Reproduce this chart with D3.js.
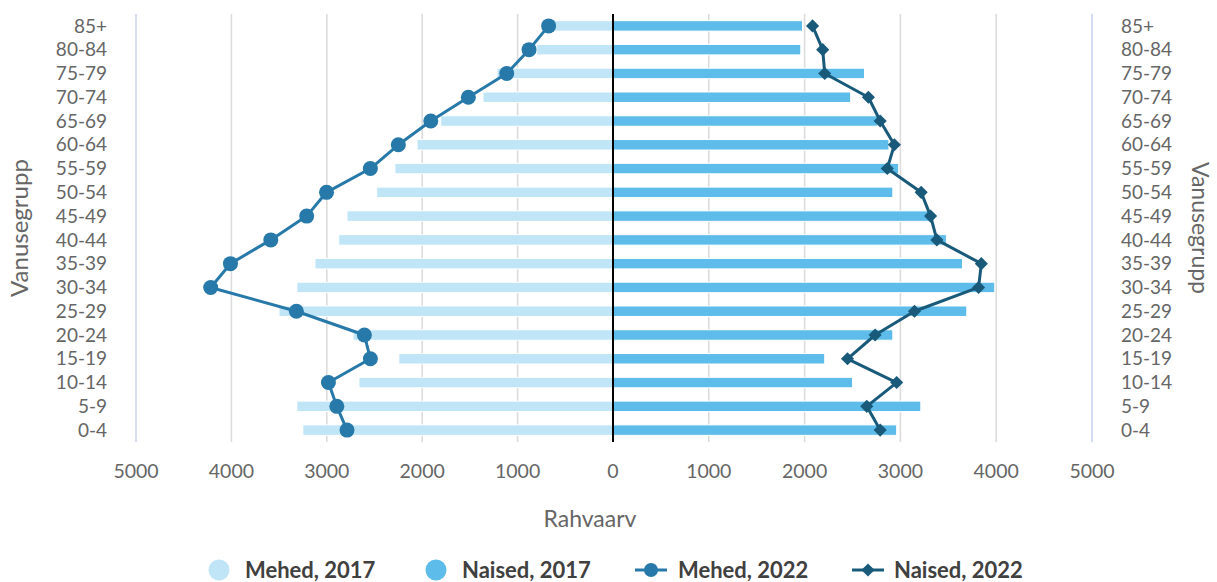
<!DOCTYPE html>
<html><head><meta charset="utf-8">
<script src="https://cdn.jsdelivr.net/npm/d3@7"></script>
<style>body{margin:0;background:#fff}svg{display:block;font-family:Lato,"Open Sans",sans-serif}</style>
</head><body><svg id="c" width="1217" height="582"></svg>
<script>
const categories = ["85+","80-84","75-79","70-74","65-69","60-64","55-59","50-54","45-49","40-44","35-39","30-34","25-29","20-24","15-19","10-14","5-9","0-4"];
const men2017   = [650, 800, 1216, 1363, 1806, 2054, 2286, 2477, 2788, 2875, 3124, 3314, 3501, 2725, 2245, 2663, 3314, 3251];
const women2017 = [1978, 1960, 2625, 2481, 2760, 2880, 2982, 2921, 3310, 3480, 3648, 3985, 3693, 2921, 2210, 2501, 3213, 2961];
const men2022   = [675, 880, 1114, 1516, 1910, 2250, 2543, 3003, 3211, 3587, 4010, 4217, 3319, 2606, 2543, 2983, 2895, 2788];
const women2022 = [2083, 2189, 2210, 2666, 2789, 2937, 2863, 3217, 3315, 3381, 3845, 3816, 3147, 2736, 2448, 2961, 2649, 2789];
const xTicks = [0, 1000, 2000, 3000, 4000, 5000];
const seriesNames = ["Mehed, 2017", "Naised, 2017", "Mehed, 2022", "Naised, 2022"];
const xTitle = "Rahvaarv";
const yTitle = "Vanusegrupp";

const C = {m17:"#bfe5f6", w17:"#5dbce9", m22:"#2779a9", w22:"#195a7a", grid:"#dcdcdc", edge:"#c9d5ea", text:"#666666", legend:"#404040"};
const svg = d3.select("#c");
const yTop = 14, yBot = 442;
const xL = d3.scaleLinear().domain([0, 5000]).range([613, 136]);
const xR = d3.scaleLinear().domain([0, 5000]).range([613, 1092]);
const y = d3.scaleBand().domain(categories).range([yTop, yBot]).paddingInner(0.56).paddingOuter(0.28);
const yc = c => y(c) + y.bandwidth() / 2;

// gridlines
const g = svg.append("g");
xTicks.filter(t => t > 0).forEach(t => {
  [xL, xR].forEach(sc => {
    g.append("line").attr("x1", sc(t)).attr("x2", sc(t)).attr("y1", yTop).attr("y2", yBot)
      .attr("stroke", t === 5000 ? C.edge : C.grid).attr("stroke-width", 1.6);
  });
});

// bars
svg.append("g").selectAll("rect").data(categories).join("rect")
  .attr("x", (d, i) => xL(men2017[i])).attr("y", d => y(d))
  .attr("width", (d, i) => xL(0) - xL(men2017[i])).attr("height", y.bandwidth())
  .attr("fill", C.m17).attr("stroke", "#fff").attr("stroke-width", 1);
svg.append("g").selectAll("rect").data(categories).join("rect")
  .attr("x", xR(0)).attr("y", d => y(d))
  .attr("width", (d, i) => xR(women2017[i]) - xR(0)).attr("height", y.bandwidth())
  .attr("fill", C.w17).attr("stroke", "#fff").attr("stroke-width", 1);

// center axis
svg.append("line").attr("x1", xL(0)).attr("x2", xL(0)).attr("y1", yTop).attr("y2", yBot)
  .attr("stroke", "#000").attr("stroke-width", 2);

// lines
const lineM = d3.line().x((d, i) => xL(d)).y((d, i) => yc(categories[i]));
const lineW = d3.line().x((d, i) => xR(d)).y((d, i) => yc(categories[i]));
svg.append("path").datum(men2022).attr("d", lineM).attr("fill", "none").attr("stroke", C.m22).attr("stroke-width", 3).attr("stroke-linejoin", "round");
svg.append("g").selectAll("circle").data(men2022).join("circle")
  .attr("cx", d => xL(d)).attr("cy", (d, i) => yc(categories[i])).attr("r", 7.5).attr("fill", C.m22);
svg.append("path").datum(women2022).attr("d", lineW).attr("fill", "none").attr("stroke", C.w22).attr("stroke-width", 3).attr("stroke-linejoin", "round");
const diamond = d3.symbol().type(d3.symbolDiamond2).size(110);
svg.append("g").selectAll("path").data(women2022).join("path")
  .attr("d", diamond).attr("transform", (d, i) => `translate(${xR(d)},${yc(categories[i])})`).attr("fill", C.w22);

// category labels
const fs = "19px";
svg.append("g").selectAll("text").data(categories).join("text")
  .attr("x", 107).attr("y", d => yc(d)).attr("dy", "0.35em").attr("text-anchor", "end")
  .attr("font-size", fs).attr("fill", C.text).text(d => d);
svg.append("g").selectAll("text").data(categories).join("text")
  .attr("x", 1121).attr("y", d => yc(d)).attr("dy", "0.35em").attr("text-anchor", "start")
  .attr("font-size", fs).attr("fill", C.text).text(d => d);

// x tick labels
const tickData = xTicks.map(t => ({t, x: xL(t)})).concat(xTicks.filter(t => t > 0).map(t => ({t, x: xR(t)})));
svg.append("g").selectAll("text").data(tickData).join("text")
  .attr("x", d => d.x).attr("y", 478).attr("text-anchor", "middle")
  .attr("font-size", "19.5px").attr("fill", C.text).text(d => d.t);

// titles
svg.append("text").attr("x", 590).attr("y", 527).attr("text-anchor", "middle")
  .attr("font-size", "23px").attr("fill", C.text).text(xTitle);
svg.append("text").attr("transform", `translate(28,${(yTop + yBot) / 2}) rotate(-90)`).attr("text-anchor", "middle")
  .attr("font-size", "24px").attr("fill", C.text).text(yTitle);
svg.append("text").attr("transform", `translate(1192,${(yTop + yBot) / 2}) rotate(90)`).attr("text-anchor", "middle")
  .attr("font-size", "23px").attr("fill", C.text).text(yTitle);

// legend
const ly = 570;
const leg = svg.append("g");
const legItems = [
  {name: seriesNames[0], x: 219, type: "circle", color: C.m17, tx: 245},
  {name: seriesNames[1], x: 436, type: "circle", color: C.w17, tx: 462},
  {name: seriesNames[2], x: 651, type: "line-circle", color: C.m22, tx: 678},
  {name: seriesNames[3], x: 868, type: "line-diamond", color: C.w22, tx: 894}
];
legItems.forEach(it => {
  if (it.type === "circle") {
    leg.append("circle").attr("cx", it.x).attr("cy", ly).attr("r", 10.5).attr("fill", it.color);
  } else {
    leg.append("line").attr("x1", it.x - 16).attr("x2", it.x + 16).attr("y1", ly).attr("y2", ly)
      .attr("stroke", it.color).attr("stroke-width", 3);
    if (it.type === "line-circle") leg.append("circle").attr("cx", it.x).attr("cy", ly).attr("r", 7).attr("fill", it.color);
    else leg.append("path").attr("d", diamond).attr("transform", `translate(${it.x},${ly})`).attr("fill", it.color);
  }
  leg.append("text").attr("x", it.tx).attr("y", ly).attr("dy", "0.36em").attr("font-size", "22px")
    .attr("font-weight", "bold").attr("fill", C.legend).text(it.name);
});
</script></body></html>
